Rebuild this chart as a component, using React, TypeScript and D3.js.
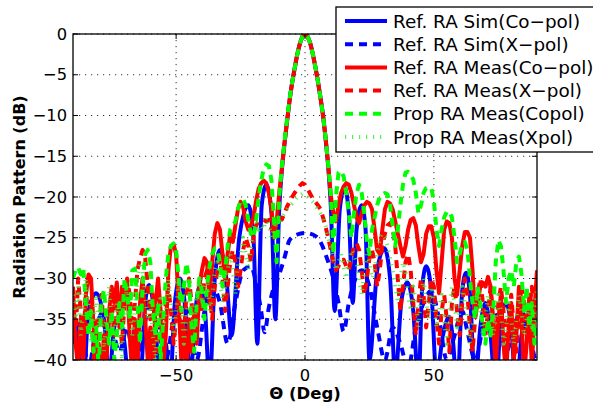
import React from "react";
import * as d3 from "d3";

// ---------- data ----------
const xTicks = [-50, 0, 50];
const yTicks = [0, -5, -10, -15, -20, -25, -30, -35, -40];

const legendLabels = [
  "Ref. RA Sim(Co\u2212pol)",
  "Ref. RA Sim(X\u2212pol)",
  "Ref. RA Meas(Co\u2212pol)",
  "Ref. RA Meas(X\u2212pol)",
  "Prop RA Meas(Copol)",
  "Prop RA Meas(Xpol)",
];

// simulated co-pol (peaks / nulls)
const simCoAngles = [-90,-88,-86,-84,-81,-78,-76,-74,-72,-70,-68,-66,-64,-62,-60.5,-58.5,-56,-54,-52.5,-50.5,-48.5,-46.5,-44.5,-42.5,-41,-39,-37,-35,-33,-30.5,-28.5,-25.5,-22,-20,-18.5,-16.8,-15,-13,-11.5,-10,-9,-8,-7,-6,-5,-4,-3,-2,-1,0,1,2,3,4,5,6,7,8,9,10,11.5,13.5,15.3,17,18.5,20,22,23.5,25,28,30.8,33,35,37.5,39.7,42,44,45.5,47,49,51,53.5,56,57.5,59,61,62.5,64,66,68,70,72,74,76,78,80,82,84,86,88,90];
const simCoValues = [-34,-38,-43,-34,-31.8,-35,-42,-36,-34.5,-38,-44,-36,-43,-33,-30.8,-34,-43,-38,-44,-33,-30,-33.5,-42,-34,-31,-33,-43,-30,-26.5,-30,-37,-25,-21,-25,-38,-21,-18.5,-22,-35,-21.5,-16.8,-13.6,-10.8,-8.2,-6,-4.2,-2.5,-1.2,-0.3,0,-0.3,-1.1,-2.4,-4,-5.8,-7.8,-10,-12.9,-16.3,-21,-34,-21.5,-18.8,-22,-33,-24,-21,-24,-40,-29,-26.3,-30,-42,-32.5,-30.5,-34,-43,-31,-28.5,-31.5,-42,-37,-34.7,-38,-44,-31.5,-29.3,-32,-43,-36,-33,-37,-44,-35,-33,-36,-44,-37,-35,-39,-43];

// simulated x-pol
const simXAngles = [-90,-87,-84,-81,-78,-75,-72,-69,-66,-63,-60,-57,-54,-51,-48,-45,-42,-39,-36,-33,-30,-27,-24,-21,-19,-17,-15.7,-14,-12,-10.6,-8,-6,-3,0,3,6,8.5,11,13,15,17,19,22,25,28,31,34,37,40,43,46,49,52,55,58,61,63,66,69,72,75,78,81,84,87,90];
const simXValues = [-38,-35,-41,-36,-34,-35.7,-39,-36,-41,-37,-33,-36,-40,-35,-32.5,-35,-40,-34,-31,-33,-38,-33,-29,-28.5,-30.5,-34,-36.6,-33.5,-31,-30,-27.5,-25.3,-24.6,-24.4,-24.6,-25.5,-27.5,-30,-33,-36.5,-33,-30.5,-29,-31,-36,-40,-36,-38,-41,-36,-33,-31.5,-35,-40,-37,-34,-36.5,-40,-36,-33,-35,-39,-36,-34,-37,-41];

// measured series on a 1 degree grid, -90 .. 90
const measAngles = d3.range(-90, 91, 1);

const refMeasCo = [
  -31,-38,-41,-35,-40,-32,-29.5,-30,-36,-41,
  -38,-42,-37,-40,-34,-31,-33,-30.5,-36,-31,
  -33,-30.5,-37,-42,-35,-41,-33,-30,-35,-40,
  -36,-42,-33,-30,-34,-41,-37,-29,-26,-25.8,
  -27,-33,-40,-36,-42,-35,-39,-34,-38,-31,
  -29,-27.5,-28,-33,-28,-24.5,-23.2,-24,-27,-30,
  -27,-24.5,-25.5,-23.5,-21.5,-20.6,-21.2,-23,-24,-23.5,
  -22.5,-20.5,-19,-18.3,-18,-18.3,-19.5,-21.5,-25,-23,
  -19.5,-16.5,-13.5,-10.8,-8.2,-6,-4.2,-2.5,-1.2,-0.3,
  0,
  -0.3,-1.1,-2.4,-4,-5.8,-7.8,-10,-12.8,-16,-19.8,
  -22,-23,-21,-19.5,-18.7,-18.3,-18.5,-19.5,-21,-22.5,
  -23.2,-22,-21,-20.6,-20.8,-21.5,-24,-26.5,-27,-24,
  -21.5,-20.6,-20.8,-21.5,-23,-24.5,-26,-27.3,-26,-24,
  -22.8,-22.6,-23.5,-26,-28,-27,-24.5,-23.6,-23.6,-25,
  -29,-31.8,-28,-24,-23,-23.2,-25,-30,-32,-29,
  -26,-24.3,-24.3,-25,-29,-34.7,-33,-31,-30.5,-31,
  -29.8,-31,-36,-41,-35,-32,-38,-42,-36,-33,
  -40,-37,-31,-35,-42,-38,-32,-41,-34,-29,
];

const refMeasX = [
  -33,-37,-30,-34,-39,-31,-36,-33,-40,-35,
  -38,-32,-36,-39,-35,-33,-37,-32,-35,-38,
  -33,-30,-32,-36,-33,-29,-27.5,-26.5,-27.5,-31,
  -35,-32,-36,-39,-34,-37,-33,-31,-34,-38,
  -35,-31,-34,-37,-32,-30,-33,-37,-35,-31,
  -34,-30,-29,-32,-35,-31,-29,-27.5,-30,-34,
  -31,-28,-26.5,-28,-31,-29,-26.5,-25,-26,-28,
  -25,-23.5,-23,-22.8,-22.8,-23,-22.8,-24,-23.5,-23,
  -22.8,-22.8,-22,-21.2,-20.6,-20,-19.5,-19,-18.6,-18.3,
  -18.5,
  -19,-19.6,-20.2,-20.6,-21,-21.5,-22.5,-23.7,-25,-26.5,
  -28,-29,-28.5,-27.8,-27.7,-28.5,-29,-27.5,-26,-25.7,
  -26.5,-29,-32,-30,-27.5,-26.5,-28,-31,-29,-26,
  -24.5,-23.5,-23.2,-23.8,-26,-30,-34,-31,-28,-27,
  -29,-33,-37,-33,-30,-32,-36,-33,-30,-31,
  -35,-38,-34,-32,-35,-39,-33,-31,-34,-37,
  -33,-30,-32,-36,-39,-35,-32,-30,-33,-37,
  -34,-31,-35,-38,-33,-31,-34,-38,-35,-32,
  -36,-39,-34,-31,-33,-37,-34,-31,-35,-32,
];

const propMeasCo = [
  -30,-29,-28.6,-29.5,-28.8,-33,-37,-34,-39,-36,
  -41,-33,-31.4,-35,-38,-34,-40,-37,-33,-36,
  -30,-32,-35,-29,-28.8,-33,-38,-31,-27,-26.5,
  -28,-34,-37,-33,-40,-35,-30,-27,-26,-25.7,
  -26.5,-30,-34,-31,-28.1,-30,-36,-39,-33,-30,
  -31.5,-35,-31,-28.5,-27,-26.3,-26.5,-28,-31,-29,
  -26,-24,-23.5,-23,-21.5,-20.5,-20.3,-21,-22.8,-24.5,
  -25,-23,-20,-18,-16.5,-16,-16.2,-18,-23,-28,
  -20,-16.3,-13.3,-10.6,-8,-6,-4.2,-2.5,-1.2,-0.3,
  0,
  -0.3,-1.1,-2.4,-4,-5.8,-7.8,-10,-12.8,-16,-19.5,
  -27,-20,-17,-16.8,-17.5,-19.5,-22,-25,-22,-19.5,
  -18.5,-19.5,-22,-25.5,-27,-24,-22.5,-21,-20,-19.7,
  -19.5,-19.7,-21,-23.5,-26,-24,-21,-18.5,-17,-16.9,
  -17.2,-17.9,-19.5,-22,-21,-19.5,-18.9,-18.8,-18.9,-20.5,
  -24,-26,-24,-22.5,-21.8,-21.8,-22.5,-25,-28,-27,
  -25.7,-25.5,-26.5,-30,-33,-35,-31,-33,-36,-38,
  -35,-37,-34,-28,-25.3,-26,-29,-33,-30,-29,
  -31,-28,-27.3,-29.5,-34,-31,-36,-33,-38,-35,
];

const propMeasX = [
  -32,-35,-31,-37,-34,-30,-33,-38,-35,-32,
  -36,-33,-39,-34,-31,-35,-38,-33,-36,-40,
  -34,-31,-33,-37,-34,-30,-28,-29,-32,-35,
  -33,-37,-40,-35,-32,-36,-34,-30,-33,-37,
  -34,-30,-33,-38,-35,-31,-34,-36,-32,-30,
  -33,-31,-30,-34,-32,-29,-28,-30,-33,-31,
  -29,-27,-29,-32,-28,-27,-25,-27,-29,-26,
  -24,-23,-24,-23.5,-24,-22.5,-23.5,-25,-24,-23,
  -23.5,-22.5,-22,-21.5,-21,-20.8,-20.5,-20,-19.8,-19.6,
  -19.8,
  -20,-20.3,-20.6,-21,-21.5,-22,-22.5,-23.5,-25,-26,
  -27.5,-29,-28,-27,-28.5,-30,-28,-26.5,-27,-28,
  -30,-32,-29,-27,-28,-30,-29,-27,-25,-24.5,
  -25,-26,-27.5,-29,-31,-33,-30,-28,-29,-32,
  -34,-31,-33,-36,-32,-30,-33,-35,-31,-33,
  -36,-34,-32,-35,-38,-34,-31,-33,-36,-34,
  -31,-33,-35,-38,-36,-33,-31,-34,-37,-35,
  -32,-34,-37,-35,-32,-34,-38,-36,-33,-35,
  -38,-35,-32,-34,-37,-35,-33,-36,-34,-31,
];

// ---------- layout ----------
const W = 593;
const H = 406;
const M = { left: 73, right: 537, top: 34, bottom: 360 };
const FONT = "'DejaVu Sans', sans-serif";

const x = d3.scaleLinear().domain([-90, 90]).range([M.left, M.right]);
const y = d3.scaleLinear().domain([-40, 0]).range([M.bottom, M.top]);

type Style = { color: string; width: number; dash?: string; opacity?: number };
const styles: Style[] = [
  { color: "#0000ff", width: 4 },
  { color: "#0000ff", width: 4, dash: "8,6" },
  { color: "#ff0000", width: 4 },
  { color: "#ff0000", width: 4, dash: "8,6" },
  { color: "#00ff00", width: 4, dash: "8,6" },
  { color: "#33ee33", width: 4, dash: "1.2,5.8", opacity: 0.85 },
];

function pathFor(angles: number[], vals: number[], smooth: boolean) {
  const pts: [number, number][] = angles.map((a, i) => [a, vals[i]]);
  const line = d3
    .line<[number, number]>()
    .x((d) => x(d[0]))
    .y((d) => y(d[1]))
    .curve(smooth ? d3.curveMonotoneX : d3.curveLinear);
  return line(pts) || "";
}

export default function App() {
  const series = [
    pathFor(simCoAngles, simCoValues, true),
    pathFor(simXAngles, simXValues, true),
    pathFor(measAngles, refMeasCo, false),
    pathFor(measAngles, refMeasX, false),
    pathFor(measAngles, propMeasCo, false),
    pathFor(measAngles, propMeasX, false),
  ];
  const legendRowY = (i: number) => 21 + i * 23.2;
  const tickLen = 5;
  return (
    <svg
      width={W}
      height={H}
      style={{ position: "absolute", left: 0, top: 0, background: "#fff" }}
      fontFamily={FONT}
    >
      <defs>
        <clipPath id="plotClip">
          <rect x={M.left} y={M.top} width={M.right - M.left} height={M.bottom - M.top} />
        </clipPath>
      </defs>
      <rect x={0} y={0} width={W} height={H} fill="#fff" />
      {/* grid */}
      <g stroke="#000" strokeWidth={1} strokeDasharray="1.2,4.8" opacity={0.8}>
        {xTicks.map((t) => (
          <line key={"gx" + t} x1={x(t)} x2={x(t)} y1={M.top} y2={M.bottom} />
        ))}
        {yTicks.map((t) => (
          <line key={"gy" + t} x1={M.left} x2={M.right} y1={y(t)} y2={y(t)} />
        ))}
      </g>
      {/* series */}
      <g clipPath="url(#plotClip)" fill="none">
        {series.map((d, i) => (
          <path
            key={i}
            d={d}
            stroke={styles[i].color}
            strokeWidth={styles[i].width}
            strokeDasharray={styles[i].dash}
            strokeOpacity={styles[i].opacity ?? 1}
            strokeLinejoin="round"
          />
        ))}
      </g>
      {/* box & ticks */}
      <rect
        x={M.left}
        y={M.top}
        width={M.right - M.left}
        height={M.bottom - M.top}
        fill="none"
        stroke="#000"
        strokeWidth={1.3}
      />
      <g stroke="#000" strokeWidth={1}>
        {xTicks.map((t) => (
          <g key={"tx" + t}>
            <line x1={x(t)} x2={x(t)} y1={M.bottom} y2={M.bottom - tickLen} />
            <line x1={x(t)} x2={x(t)} y1={M.top} y2={M.top + tickLen} />
          </g>
        ))}
        {yTicks.map((t) => (
          <g key={"ty" + t}>
            <line x1={M.left} x2={M.left + tickLen} y1={y(t)} y2={y(t)} />
            <line x1={M.right} x2={M.right - tickLen} y1={y(t)} y2={y(t)} />
          </g>
        ))}
      </g>
      {/* tick labels */}
      <g fontSize={16.3} fill="#000">
        {xTicks.map((t) => (
          <text key={"lx" + t} x={x(t)} y={381} textAnchor="middle">
            {t < 0 ? "\u2212" + Math.abs(t) : String(t)}
          </text>
        ))}
        {yTicks.map((t) => (
          <text key={"ly" + t} x={67} y={y(t)} textAnchor="end" dominantBaseline="central">
            {t < 0 ? "\u2212" + Math.abs(t) : String(t)}
          </text>
        ))}
      </g>
      {/* axis labels */}
      <text x={(M.left + M.right) / 2} y={399} textAnchor="middle" fontSize={16.5} fontWeight="bold">
        {"\u0398 (Deg)"}
      </text>
      <text
        transform={`translate(19,${(M.top + M.bottom) / 2}) rotate(-90)`}
        textAnchor="middle"
        dominantBaseline="central"
        fontSize={16}
        fontWeight="bold"
      >
        Radiation Pattern (dB)
      </text>
      {/* legend */}
      <g>
        <rect x={336} y={7} width={270} height={145} fill="#fff" stroke="#000" strokeWidth={1.3} />
        {legendLabels.map((lab, i) => (
          <g key={lab}>
            <line
              x1={345}
              x2={387}
              y1={legendRowY(i)}
              y2={legendRowY(i)}
              stroke={styles[i].color}
              strokeWidth={styles[i].width}
              strokeDasharray={styles[i].dash}
              strokeOpacity={styles[i].opacity ?? 1}
            />
            <text x={393} y={legendRowY(i)} dominantBaseline="central" fontSize={18.4}>
              {lab}
            </text>
          </g>
        ))}
      </g>
    </svg>
  );
}
